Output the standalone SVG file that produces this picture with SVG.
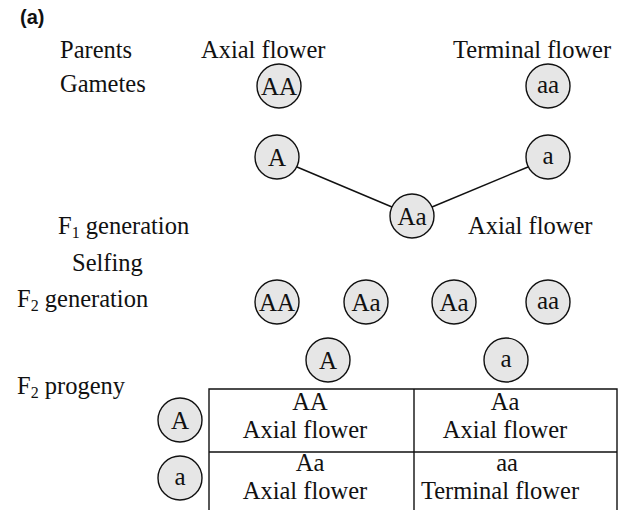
<svg xmlns="http://www.w3.org/2000/svg" width="622" height="510" viewBox="0 0 622 510">
<style>
text{font-family:"Liberation Serif",serif;font-size:24.5px;fill:#111}
.lbl{font-family:"Liberation Sans",sans-serif;font-weight:bold;font-size:20px}
.c{fill:#e6e6e6;stroke:#111;stroke-width:1.4}
.ct{text-anchor:middle}
.cc{text-anchor:middle;font-size:25px}
.ln{stroke:#111;stroke-width:1.4;fill:none}
.sub{font-size:16px}
</style>
<rect width="622" height="510" fill="#fff"/>
<text class="lbl" x="20" y="24">(a)</text>
<text x="60" y="58">Parents</text>
<text x="201" y="58">Axial flower</text>
<text x="453" y="58">Terminal flower</text>
<text x="60" y="92">Gametes</text>
<text x="58" y="234">F<tspan class="sub" dy="4">1</tspan><tspan dy="-4"> generation</tspan></text>
<text x="468" y="234">Axial flower</text>
<text x="72" y="271">Selfing</text>
<text x="17" y="307">F<tspan class="sub" dy="4">2</tspan><tspan dy="-4"> generation</tspan></text>
<text x="17" y="394">F<tspan class="sub" dy="4">2</tspan><tspan dy="-4"> progeny</tspan></text>
<g id="connectors">
<line class="ln" x1="297" y1="167" x2="392" y2="207"/>
<line class="ln" x1="528" y1="167" x2="432" y2="207"/>
</g>
<g id="g-AA"><circle class="c" cx="279" cy="86" r="22"/><text class="cc" x="279" y="95">AA</text></g>
<g id="g-aa"><circle class="c" cx="548" cy="86" r="22"/><text class="cc" x="548" y="93">aa</text></g>
<g id="gam-A"><circle class="c" cx="277" cy="157" r="22"/><text class="cc" x="277" y="166">A</text></g>
<g id="gam-a"><circle class="c" cx="548" cy="157" r="22"/><text class="cc" x="548" y="164">a</text></g>
<g id="f1-Aa"><circle class="c" cx="412" cy="216" r="22"/><text class="cc" x="412" y="225">Aa</text></g>
<g id="f2-AA"><circle class="c" cx="277" cy="302" r="22"/><text class="cc" x="277" y="311">AA</text></g>
<g id="f2-Aa1"><circle class="c" cx="366" cy="302" r="22"/><text class="cc" x="366" y="311">Aa</text></g>
<g id="f2-Aa2"><circle class="c" cx="454" cy="302" r="22"/><text class="cc" x="454" y="311">Aa</text></g>
<g id="f2-aa"><circle class="c" cx="548" cy="302" r="22"/><text class="cc" x="548" y="309">aa</text></g>
<g id="p-A-top"><circle class="c" cx="328" cy="360" r="22"/><text class="cc" x="328" y="369">A</text></g>
<g id="p-a-top"><circle class="c" cx="506" cy="360" r="22"/><text class="cc" x="506" y="367">a</text></g>
<g id="p-A-left"><circle class="c" cx="180" cy="420" r="22"/><text class="cc" x="180" y="429">A</text></g>
<g id="p-a-left"><circle class="c" cx="180" cy="478" r="22"/><text class="cc" x="180" y="485">a</text></g>
<g id="table">
<path class="ln" d="M209 510V389H617V510M414 389V510M209 452H617"/>
<text class="ct" x="310" y="410">AA</text>
<text class="ct" x="305" y="438">Axial flower</text>
<text class="ct" x="505" y="410">Aa</text>
<text class="ct" x="505" y="438">Axial flower</text>
<text class="ct" x="310" y="471">Aa</text>
<text class="ct" x="305" y="499">Axial flower</text>
<text class="ct" x="507" y="471">aa</text>
<text class="ct" x="500" y="499">Terminal flower</text>
</g>
</svg>
